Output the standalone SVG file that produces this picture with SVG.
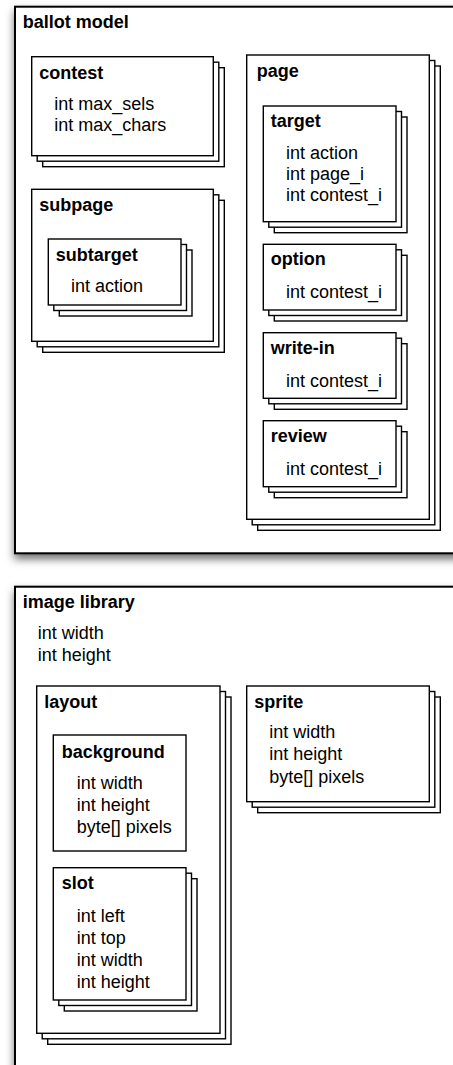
<svg xmlns="http://www.w3.org/2000/svg" width="453" height="1065" viewBox="0 0 453 1065">
<style>
.frame{fill:#fff;stroke:#000;stroke-width:2}
.box{fill:#fff;stroke:#000;stroke-width:1.4}
.t{font-family:"Liberation Sans",Arial,sans-serif;font-size:18px;font-weight:bold;fill:#000}
.b{font-family:"Liberation Sans",Arial,sans-serif;font-size:18px;fill:#000}
</style>
<defs>
<filter id="sh" x="-10%" y="-10%" width="130%" height="130%">
<feDropShadow dx="0" dy="5" stdDeviation="4" flood-color="#000" flood-opacity="0.55"/>
</filter>
</defs>
<rect width="453" height="1065" fill="#fff"/>
<g id="connectors"/>
<g id="ballot-model">
<rect class="frame" x="15" y="6.7" width="470" height="546.6" filter="url(#sh)"/>
<text class="t" x="22.7" y="28.3">ballot model</text>
</g>
<g id="contest">
<rect class="box" x="42.7" y="67.7" width="181.6" height="99"/>
<rect class="box" x="37.2" y="62.2" width="181.6" height="99"/>
<rect class="box" x="31.7" y="56.7" width="181.6" height="99"/>
<text class="t" x="39.3" y="79">contest</text>
<text class="b" x="54.3" y="110">int max_sels</text>
<text class="b" x="54.3" y="131">int max_chars</text>
</g>
<g id="subpage">
<rect class="box" x="42.7" y="200.3" width="181.6" height="152"/>
<rect class="box" x="37.2" y="194.8" width="181.6" height="152"/>
<rect class="box" x="31.7" y="189.3" width="181.6" height="152"/>
<text class="t" x="39.3" y="210.7">subpage</text>
</g>
<g id="subtarget">
<rect class="box" x="59.3" y="250" width="132.7" height="66"/>
<rect class="box" x="53.8" y="244.5" width="132.7" height="66"/>
<rect class="box" x="48.3" y="239" width="132.7" height="66"/>
<text class="t" x="55.7" y="261">subtarget</text>
<text class="b" x="71" y="291.7">int action</text>
</g>
<g id="page">
<rect class="box" x="257.7" y="66" width="182.6" height="464.3"/>
<rect class="box" x="252.2" y="60.5" width="182.6" height="464.3"/>
<rect class="box" x="246.7" y="55" width="182.6" height="464.3"/>
<text class="t" x="256.7" y="76.7">page</text>
</g>
<g id="target">
<rect class="box" x="274.3" y="117" width="132.7" height="115.7"/>
<rect class="box" x="268.8" y="111.5" width="132.7" height="115.7"/>
<rect class="box" x="263.3" y="106" width="132.7" height="115.7"/>
<text class="t" x="270.7" y="127.3">target</text>
<text class="b" x="286" y="159.3">int action</text>
<text class="b" x="286" y="180">int page_i</text>
<text class="b" x="286" y="201">int contest_i</text>
</g>
<g id="option">
<rect class="box" x="274.3" y="255.3" width="132.7" height="65.7"/>
<rect class="box" x="268.8" y="249.8" width="132.7" height="65.7"/>
<rect class="box" x="263.3" y="244.3" width="132.7" height="65.7"/>
<text class="t" x="270.7" y="265">option</text>
<text class="b" x="286" y="298.3">int contest_i</text>
</g>
<g id="write-in">
<rect class="box" x="274.3" y="343.7" width="132.7" height="65.6"/>
<rect class="box" x="268.8" y="338.2" width="132.7" height="65.6"/>
<rect class="box" x="263.3" y="332.7" width="132.7" height="65.6"/>
<text class="t" x="270.7" y="354">write-in</text>
<text class="b" x="286" y="386.7">int contest_i</text>
</g>
<g id="review">
<rect class="box" x="274.3" y="431.7" width="132.7" height="66"/>
<rect class="box" x="268.8" y="426.2" width="132.7" height="66"/>
<rect class="box" x="263.3" y="420.7" width="132.7" height="66"/>
<text class="t" x="270.7" y="442.3">review</text>
<text class="b" x="286" y="475">int contest_i</text>
</g>
<g id="image-library">
<rect class="frame" x="15" y="586.7" width="470" height="500" filter="url(#sh)"/>
<text class="t" x="22.7" y="608.3">image library</text>
<text class="b" x="37.7" y="639.3">int width</text>
<text class="b" x="37.7" y="661">int height</text>
</g>
<g id="layout">
<rect class="box" x="47.7" y="697" width="183.3" height="347.3"/>
<rect class="box" x="42.2" y="691.5" width="183.3" height="347.3"/>
<rect class="box" x="36.7" y="686" width="183.3" height="347.3"/>
<text class="t" x="44.3" y="708.3">layout</text>
</g>
<g id="background">
<rect class="box" x="53.3" y="735" width="132.7" height="116"/>
<text class="t" x="61.7" y="757.7">background</text>
<text class="b" x="76.7" y="789.3">int width</text>
<text class="b" x="76.7" y="811">int height</text>
<text class="b" x="76.7" y="832.7">byte[] pixels</text>
</g>
<g id="slot">
<rect class="box" x="64.3" y="878.7" width="132.7" height="132.3"/>
<rect class="box" x="58.8" y="873.2" width="132.7" height="132.3"/>
<rect class="box" x="53.3" y="867.7" width="132.7" height="132.3"/>
<text class="t" x="61.7" y="889.3">slot</text>
<text class="b" x="76.7" y="921.7">int left</text>
<text class="b" x="76.7" y="944">int top</text>
<text class="b" x="76.7" y="965.7">int width</text>
<text class="b" x="76.7" y="987.7">int height</text>
</g>
<g id="sprite">
<rect class="box" x="257.7" y="697" width="182.6" height="115.7"/>
<rect class="box" x="252.2" y="691.5" width="182.6" height="115.7"/>
<rect class="box" x="246.7" y="686" width="182.6" height="115.7"/>
<text class="t" x="254.3" y="708.3">sprite</text>
<text class="b" x="269.3" y="738.3">int width</text>
<text class="b" x="269.3" y="760">int height</text>
<text class="b" x="269.3" y="783.3">byte[] pixels</text>
</g>
</svg>
